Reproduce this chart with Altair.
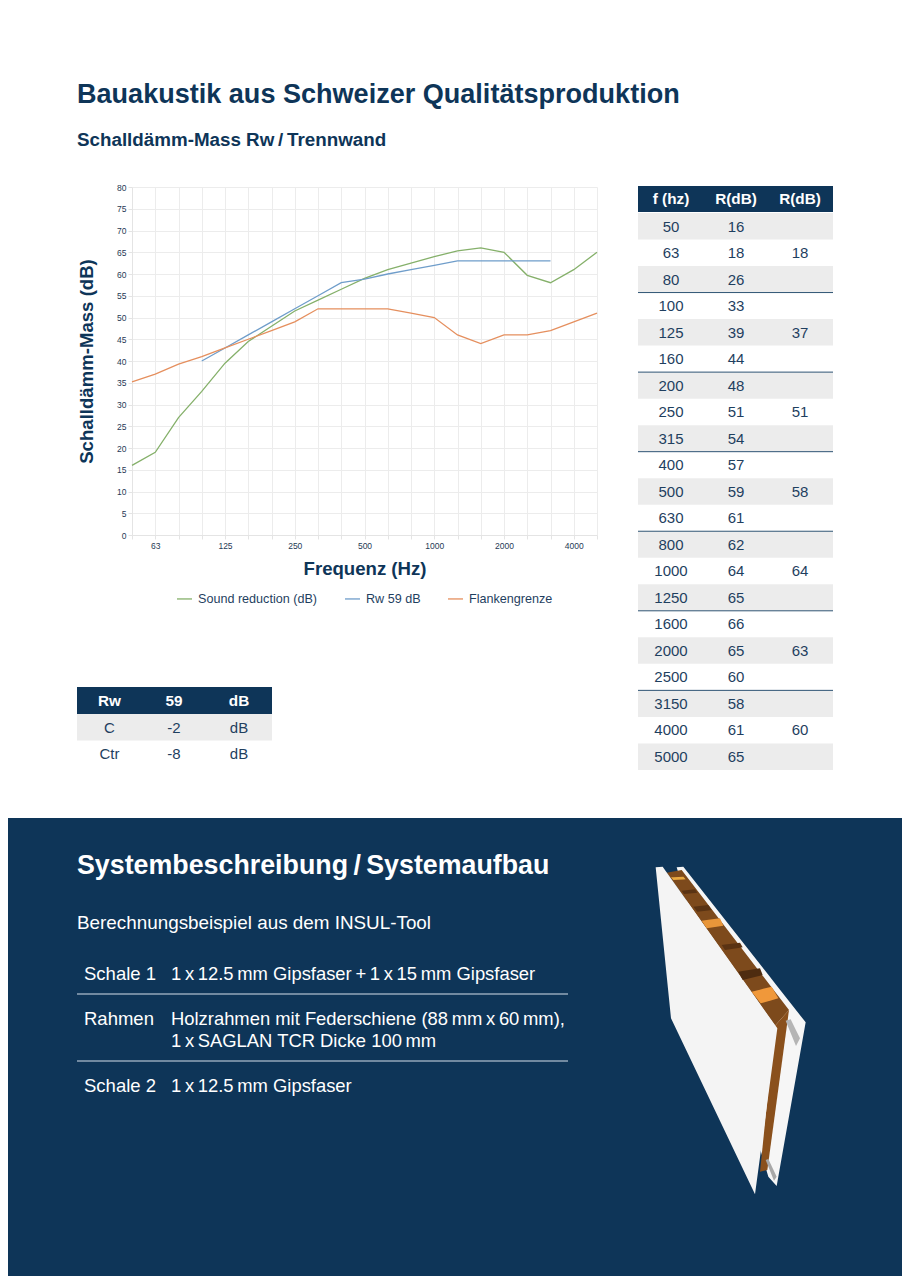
import altair as alt
import pandas as pd

FONT = "Liberation Sans"
NAVY = "#0e3558"
TXT = "#1f3f5f"
GREY = "#ececec"
TH = "\u2009"

freq_labels = ["50","63","80","100","125","160","200","250","315","400","500","630","800","1000","1250","1600","2000","2500","3150","4000","5000"]
shown_ticks = ["63","125","250","500","1000","2000","4000"]
sound_reduction = [16,19,27,33,39.5,44.5,48,51.5,54,56.5,59,61,62.5,64,65.3,66,65,59.7,58,61,65]
rw_59 = [None,None,None,40,43,46,49,52,55,58,58.8,60,61,62,63,63,63,63,63,None,None]
flanken = [35.2,37,39.3,41,43,45,47,49,52,52,52,52,51,50,46,44,46,46,47,49,51]
series_names = ["Sound reduction (dB)", "Rw 59 dB", "Flankengrenze"]
series_colors = ["#85b06a", "#6f9dca", "#e58f5e"]

table_r1 = ["16","18","26","33","39","44","48","51","54","57","59","61","62","64","65","66","65","60","58","61","65"]
table_r2 = ["","18","","","37","","","51","","","58","","","64","","","63","","","60",""]
table_header = ["f (hz)", "R(dB)", "R(dB)"]
rw_rows = [["Rw","59","dB"],["C","-2","dB"],["Ctr","-8","dB"]]
spec_rows = [["Schale 1",f"1{TH}x{TH}12.5{TH}mm Gipsfaser{TH}+{TH}1{TH}x{TH}15{TH}mm Gipsfaser"],
             ["Rahmen",f"Holzrahmen mit Federschiene (88{TH}mm{TH}x{TH}60{TH}mm),"],
             ["",f"1{TH}x{TH}SAGLAN TCR Dicke 100{TH}mm"],
             ["Schale 2",f"1{TH}x{TH}12.5{TH}mm Gipsfaser"]]

# wall illustration, as outline points
wall_polys = [
 ("#f6f6f6", [(110,22),(130,20),(497,487),(410,978),(385,950)]),
 ("#7d4a1c", [(80,38),(125,30),(447,450),(405,497)]),
 ("#8a501c", [(405,497),(447,450),(382,930),(360,935)]),
 ("#f4f4f4", [(47,22),(68,20),(412,505),(345,1003),(93,475)]),
 ("#e8a840", [(93,52),(130,50),(137,58),(100,60)]),
 ("#e8963a", [(185,182),(240,175),(250,197),(200,205)]),
 ("#f0983a", [(335,395),(395,380),(415,415),(362,430)]),
 ("#5a3313", [(125,92),(165,88),(172,98),(132,102)]),
 ("#5a3313", [(160,140),(205,135),(215,150),(172,155)]),
 ("#5a3313", [(245,255),(300,248),(308,262),(255,270)]),
 ("#4e2c10", [(295,335),(360,325),(368,345),(308,360)]),
 ("#b5b5b5", [(437,482),(452,478),(480,535),(468,558)]),
 ("#a8a8a8", [(377,900),(385,897),(410,950),(402,962)]),
]

PX = alt.Scale(domain=[0, 910], range=[-132, 778], nice=False, zero=False)
PY = alt.Scale(domain=[0, 1276], range=[-187, 1089], nice=False, zero=False)

def rect(x0, x1, y0, y1, color):
    d = pd.DataFrame({"a":[x0],"b":[x1],"c":[y0],"d":[y1]})
    return alt.Chart(d).mark_rect(color=color).encode(
        x=alt.X("a:Q", scale=PX, axis=None), x2="b:Q",
        y=alt.Y("c:Q", scale=PY, axis=None), y2="d:Q")

def hline(x0, x1, y, color, w=1):
    d = pd.DataFrame({"a":[x0],"b":[x1],"c":[y]})
    return alt.Chart(d).mark_rule(color=color, strokeWidth=w).encode(
        x=alt.X("a:Q", scale=PX, axis=None), x2="b:Q",
        y=alt.Y("c:Q", scale=PY, axis=None))

def txt(x, y, s, size=15, color=TXT, bold=False, align="left"):
    d = pd.DataFrame({"a":[x],"c":[y],"t":[s]})
    return alt.Chart(d).mark_text(font=FONT, fontSize=size, color=color, align=align,
                                  baseline="alphabetic", fontWeight="bold" if bold else "normal").encode(
        x=alt.X("a:Q", scale=PX, axis=None),
        y=alt.Y("c:Q", scale=PY, axis=None), text="t:N")

def poly(color, pts):
    P = [(640 + a/3, 860 + b/3) for a, b in pts]
    xs = sorted({p[0] for p in P})
    rows = []
    n = len(P)
    for x in xs:
        ys = []
        for i in range(n):
            (x0,y0),(x1,y1) = P[i],P[(i+1)%n]
            if min(x0,x1) <= x <= max(x0,x1):
                if x0 == x1:
                    ys += [y0,y1]
                else:
                    ys.append(y0+(y1-y0)*(x-x0)/(x1-x0))
        rows.append({"a":x,"c":min(ys),"d":max(ys)})
    return alt.Chart(pd.DataFrame(rows)).mark_area(color=color, opacity=1, interpolate="linear").encode(
        x=alt.X("a:Q", scale=PX, axis=None),
        y=alt.Y("c:Q", scale=PY, axis=None), y2="d:Q")

layers = []
# bottom band
layers.append(rect(0, 910, 818, 1276, NAVY))

# line chart
rows = []
for name, vals in zip(series_names, [sound_reduction, rw_59, flanken]):
    for f, v in zip(freq_labels, vals):
        if v is not None:
            rows.append({"f":f, "v":v, "s":name})
tick_test = "indexof(" + str(shown_ticks) + ", datum.label) >= 0 ? datum.label : ''"
plot = alt.Chart(pd.DataFrame(rows)).mark_line(strokeWidth=1.3, interpolate="linear").encode(
    x=alt.X("f:O", sort=freq_labels,
            scale=alt.Scale(domain=freq_labels, type="point", padding=0),
            axis=alt.Axis(title="Frequenz (Hz)", labelExpr=tick_test, labelAngle=0, labelOverlap=False,
                          grid=True, gridColor="#ececec", gridWidth=1, domainColor="#e4e4e4",
                          tickColor="#e4e4e4", tickSize=4, labelFont=FONT, labelFontSize=8.5,
                          labelColor="#1f3a55", labelPadding=2,
                          titleFont=FONT, titleFontSize=18.6, titleFontWeight="bold", titleColor=NAVY,
                          titlePadding=10)),
    y=alt.Y("v:Q", scale=alt.Scale(domain=[0,80], nice=False, zero=True),
            axis=alt.Axis(title="Schalldämm-Mass (dB)", values=list(range(0,81,5)), format="d",
                          grid=True, gridColor="#ececec", gridWidth=1, domainColor="#e4e4e4",
                          tickColor="#e4e4e4", tickSize=4, labelFont=FONT, labelFontSize=8.5,
                          labelColor="#1f3a55", labelPadding=2,
                          titleFont=FONT, titleFontSize=18.6, titleFontWeight="bold", titleColor=NAVY,
                          titlePadding=20)),
    color=alt.Color("s:N", scale=alt.Scale(domain=series_names, range=series_colors),
                    legend=alt.Legend(title=None, orient="none", direction="horizontal",
                                      legendX=44, legendY=403, symbolType="stroke", symbolSize=225,
                                      symbolStrokeWidth=1.3, labelFont=FONT, labelFontSize=12.6,
                                      labelColor=TXT, columnPadding=24, labelOffset=5)),
)
layers.append(plot)

# headings
layers.append(txt(77, 103, "Bauakustik aus Schweizer Qualitätsproduktion", 27.05, NAVY, True))
layers.append(txt(77, 146, f"Schalldämm-Mass Rw{TH}/{TH}Trennwand", 18.8, NAVY, True))

# frequency table
RH = 26.52
T0 = 213
layers.append(rect(638, 833, 186, 212, NAVY))
cols = [671, 736, 800]
for cx, h in zip(cols, table_header):
    layers.append(txt(cx, 204, h, 15.3, "#ffffff", True, "center"))
for i, f in enumerate(freq_labels):
    top = T0 + i*RH
    if i % 2 == 0:
        layers.append(rect(638, 833, top, top+RH, GREY))
for i, (f, a, b) in enumerate(zip(freq_labels, table_r1, table_r2)):
    base = T0 + i*RH + 18.5
    layers.append(txt(cols[0], base, f, 15, TXT, False, "center"))
    layers.append(txt(cols[1], base, a, 15, TXT, False, "center"))
    if b:
        layers.append(txt(cols[2], base, b, 15, TXT, False, "center"))
    if i % 3 == 2 and i < 20:
        layers.append(hline(638, 833, T0 + (i+1)*RH, "#2f5474", 1))

# Rw table
layers.append(rect(77, 272, 687, 714, NAVY))
layers.append(rect(77, 272, 714, 740.5, GREY))
rw_cols = [109.5, 174, 239]
for r, row in enumerate(rw_rows):
    for cx, s in zip(rw_cols, row):
        layers.append(txt(cx, 706 + r*26.5, s, 15.3 if r == 0 else 15, "#ffffff" if r == 0 else TXT, r == 0, "center"))

# system description
layers.append(txt(77, 874, f"Systembeschreibung{TH}/{TH}Systemaufbau", 26.8, "#ffffff", True))
layers.append(txt(77, 929, "Berechnungsbeispiel aus dem INSUL-Tool", 18.85, "#ffffff"))
spec_base = [980, 1025, 1047, 1092]
for b, (l, r) in zip(spec_base, spec_rows):
    if l:
        layers.append(txt(84, b, l, 18.5, "#ffffff"))
    layers.append(txt(171, b, r, 18.4, "#ffffff"))
layers.append(hline(77, 568, 994, "#d5e0ea", 1))
layers.append(hline(77, 568, 1061, "#d5e0ea", 1))

for c, pts in wall_polys:
    layers.append(poly(c, pts))

chart = alt.layer(*layers).resolve_scale(x="independent", y="independent", color="independent").properties(
    width=465, height=348,
    padding={"left":124, "top":179, "right":305, "bottom":741},
    autosize=alt.AutoSizeParams(type="none"),
    background="#ffffff",
).configure_view(stroke=None)

chart.save("out.html", embed_options={"renderer": "svg", "actions": False})
